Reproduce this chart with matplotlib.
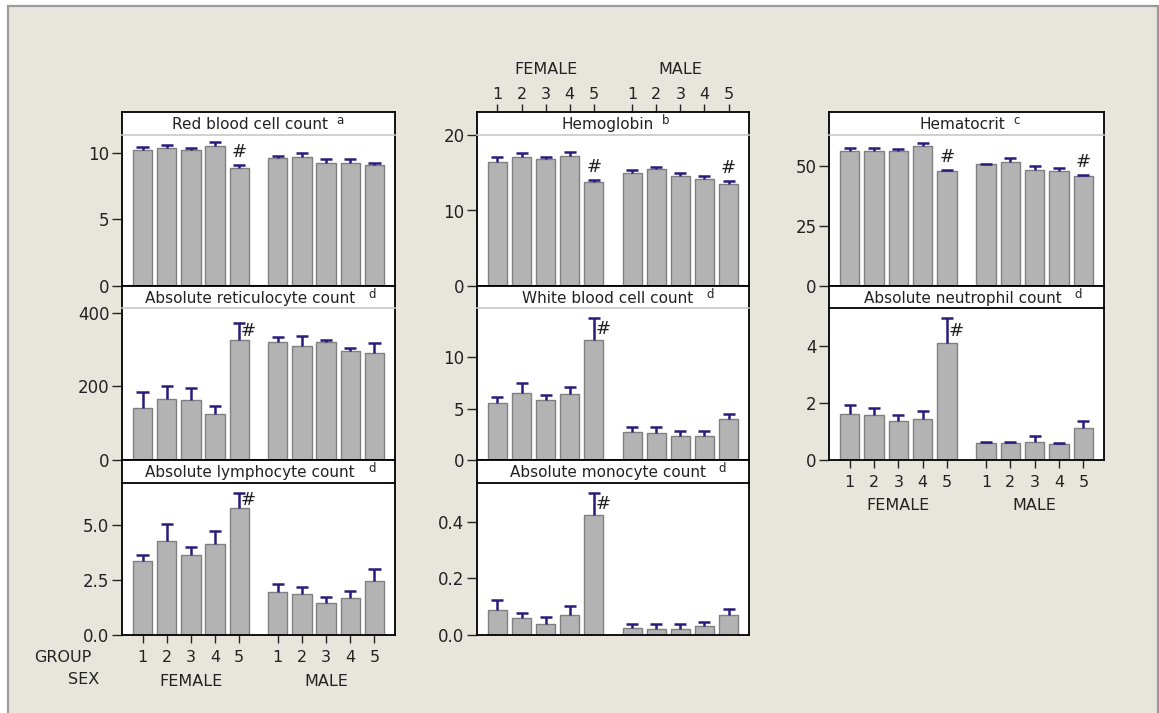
"""
Hematologia por grupo e sexo: painéis de barras (média + EP) em grade 3x3.
Salva out.png.
"""
import matplotlib
matplotlib.use("Agg")
import matplotlib.pyplot as plt
import numpy as np
from matplotlib.patches import Rectangle
from matplotlib.ticker import FormatStrFormatter

W, H = 1159, 713
FUNDO, BARRA, BORDA_BARRA, ERRO = "#e8e6dc", "#b3b3b3", "#808080", "#2b1a7c"

GRUPOS = ["1", "2", "3", "4", "5"]
SEXOS = ["FEMALE", "MALE"]

# médias (F1..F5, M1..M5) e erro padrão (só barra superior)
rbc = [10.18, 10.33, 10.18, 10.53, 8.87, 9.62, 9.70, 9.20, 9.20, 9.10]
rbc_ep = [0.27, 0.25, 0.17, 0.25, 0.20, 0.10, 0.25, 0.30, 0.30, 0.12]
hgb = [16.49, 17.07, 16.80, 17.20, 13.82, 14.93, 15.56, 14.62, 14.22, 13.47]
hgb_ep = [0.53, 0.53, 0.22, 0.58, 0.22, 0.45, 0.17, 0.36, 0.36, 0.40]
hct = [56.0, 56.0, 56.0, 57.95, 47.7, 50.6, 51.5, 48.3, 47.7, 45.5]
hct_ep = [1.1, 1.5, 1.0, 1.35, 0.6, 0.2, 1.5, 1.6, 1.4, 0.7]
retic = [142, 166, 164, 125, 327, 322, 310, 322, 297, 292]
retic_ep = [44, 35, 31, 23, 46, 12, 28, 4, 7, 27]
wbc = [5.55, 6.49, 5.84, 6.40, 11.69, 2.69, 2.60, 2.34, 2.34, 3.96]
wbc_ep = [0.55, 0.95, 0.52, 0.65, 2.1, 0.56, 0.58, 0.52, 0.52, 0.52]
neut = [1.60, 1.57, 1.36, 1.43, 4.09, 0.585, 0.585, 0.62, 0.55, 1.12]
neut_ep = [0.31, 0.24, 0.20, 0.28, 0.88, 0.055, 0.055, 0.23, 0.035, 0.26]
linf = [3.36, 4.26, 3.62, 4.12, 5.78, 1.95, 1.85, 1.44, 1.66, 2.46]
linf_ep = [0.26, 0.77, 0.36, 0.59, 0.69, 0.39, 0.31, 0.29, 0.32, 0.52]
mono = [0.089, 0.059, 0.040, 0.070, 0.425, 0.024, 0.020, 0.020, 0.031, 0.070]
mono_ep = [0.035, 0.020, 0.025, 0.034, 0.079, 0.015, 0.019, 0.019, 0.014, 0.023]

# índices com diferença significativa (#)
sig_rbc = [4]
sig_hgb = [4, 9]
sig_hct = [4, 9]
sig_f5 = [4]

# (titulo, sobrescrito, medias, ep, sig, ylim, yticks, coluna, linha)
PAINEIS = [
    ("Red blood cell count", "a", rbc, rbc_ep, sig_rbc, 11.33, [0, 5, 10], 0, 0),
    ("Hemoglobin", "b", hgb, hgb_ep, sig_hgb, 20.0, [0, 10, 20], 1, 0),
    ("Hematocrit", "c", hct, hct_ep, sig_hct, 62.7, [0, 25, 50], 2, 0),
    ("Absolute reticulocyte count", "d", retic, retic_ep, sig_f5, 413.6, [0, 200, 400], 0, 1),
    ("White blood cell count", "d", wbc, wbc_ep, sig_f5, 14.77, [0, 5, 10], 1, 1),
    ("Absolute neutrophil count", "d", neut, neut_ep, sig_f5, 5.32, [0, 2, 4], 2, 1),
    ("Absolute lymphocyte count", "d", linf, linf_ep, sig_f5, 6.91, [0.0, 2.5, 5.0], 0, 2),
    ("Absolute monocyte count", "d", mono, mono_ep, sig_f5, 0.538, [0.0, 0.2, 0.4], 1, 2),
]

COLUNAS = [(122, 395), (477, 749), (829, 1104)]
LINHAS = [(112, 135, 286), (286, 308, 460), (460, 483, 635)]  # topo faixa, fim faixa, zero
XCENTRO_TITULO = {0: 0.47, 1: 0.48, 2: 0.485}

pos = np.r_[np.arange(5), np.arange(5) + 5.6]
XLIM = (-0.85, 10.45)


def caixa(x0, y0, x1, y1):
    return [x0 / W, 1 - y1 / H, (x1 - x0) / W, (y1 - y0) / H]


def eixo_x_rotulado(ax, lado, desloc_sexo):
    ax.set_xticks(pos)
    ax.set_xticklabels(GRUPOS * 2, fontsize=11.5)
    if lado == "top":
        ax.tick_params(axis="x", top=True, labeltop=True, bottom=False, labelbottom=False,
                       length=6, width=1, pad=1, colors="#222222")
    else:
        ax.tick_params(axis="x", bottom=True, labelbottom=True, length=6, width=1, pad=5,
                       colors="#222222")
    for i, sexo in enumerate(SEXOS):
        y = 1 if lado == "top" else 0
        ax.annotate(sexo, xy=(pos[5 * i + 2], y), xycoords=("data", "axes fraction"),
                    xytext=(0, desloc_sexo), textcoords="offset pixels",
                    ha="center", va="center", fontsize=11.5, color="#222222")


fig = plt.figure(figsize=(W / 100, H / 100), dpi=100, facecolor="white")
fig.patches.append(Rectangle((8 / W, -0.02), 1150 / W, 1.02 - 6 / H, transform=fig.transFigure,
                             facecolor=FUNDO, edgecolor="#9a9a9a", linewidth=1.6, zorder=-5))

for titulo, sup, medias, ep, sig, ytop, yticks, col, lin in PAINEIS:
    x0, x1 = COLUNAS[col]
    topo, fim_faixa, zero = LINHAS[lin]
    ultima = (lin == 2) or (col == 2 and lin == 1)

    ax = fig.add_axes(caixa(x0, fim_faixa, x1, zero))
    ax.set_facecolor("white")
    ax.bar(pos, medias, width=0.8, color=BARRA, edgecolor=BORDA_BARRA, linewidth=1, zorder=2)
    topo_erro = np.array(medias) + np.array(ep)
    ax.vlines(pos, medias, topo_erro, color=ERRO, linewidth=1.8, zorder=3)
    ax.hlines(topo_erro, pos - 0.25, pos + 0.25, color=ERRO, linewidth=1.8, zorder=3)
    for i in sig:
        if lin == 0:
            ax.annotate("#", xy=(pos[i], topo_erro[i]), xytext=(0, 4), textcoords="offset pixels",
                        ha="center", va="bottom", fontsize=13, color="#222222")
        else:
            ax.text(pos[i] + 0.08, (medias[i] + topo_erro[i]) / 2, "#",
                    ha="left", va="center", fontsize=13, color="#222222")
    ax.set_xlim(XLIM)
    ax.set_ylim(0, ytop)
    ax.set_yticks(yticks)
    if isinstance(yticks[0], float):
        ax.yaxis.set_major_formatter(FormatStrFormatter("%.1f"))
    ax.tick_params(axis="y", labelsize=12, length=7, width=1, pad=2, colors="#222222")
    ax.spines["top"].set_visible(False)
    for s in ("left", "right", "bottom"):
        ax.spines[s].set_linewidth(1.3)
    if ultima and col != 1:
        eixo_x_rotulado(ax, "bottom", -46)
    else:
        ax.tick_params(axis="x", bottom=False, labelbottom=False)

    # faixa de título
    faixa = fig.add_axes(caixa(x0, topo, x1, fim_faixa))
    faixa.set_facecolor("white")
    faixa.set_xlim(XLIM)
    faixa.set_yticks([])
    faixa.set_xticks([])
    for s in ("left", "right", "top"):
        faixa.spines[s].set_linewidth(1.3)
    if ultima:
        faixa.spines["bottom"].set_linewidth(1.3)
    else:
        faixa.spines["bottom"].set_color("#c8c8c8")
        faixa.spines["bottom"].set_linewidth(1.2)
    t = faixa.text(XCENTRO_TITULO[col], 0.45, titulo, transform=faixa.transAxes,
                   ha="center", va="center", fontsize=11, color="#222222")
    gap = 8 if sup != "d" else 13
    faixa.annotate(sup, xy=(1, 1), xycoords=t, xytext=(gap, 3), textcoords="offset pixels",
                   ha="left", va="top", fontsize=8.5, color="#222222")
    if col == 1 and lin == 0:
        eixo_x_rotulado(faixa, "top", 42)

fig.text(34 / W, 1 - 657 / H, "GROUP", ha="left", va="center", fontsize=11.5, color="#222222")
fig.text(68 / W, 1 - 680 / H, "SEX", ha="left", va="center", fontsize=11.5, color="#222222")

fig.savefig("out.png", dpi=100, facecolor="white")
